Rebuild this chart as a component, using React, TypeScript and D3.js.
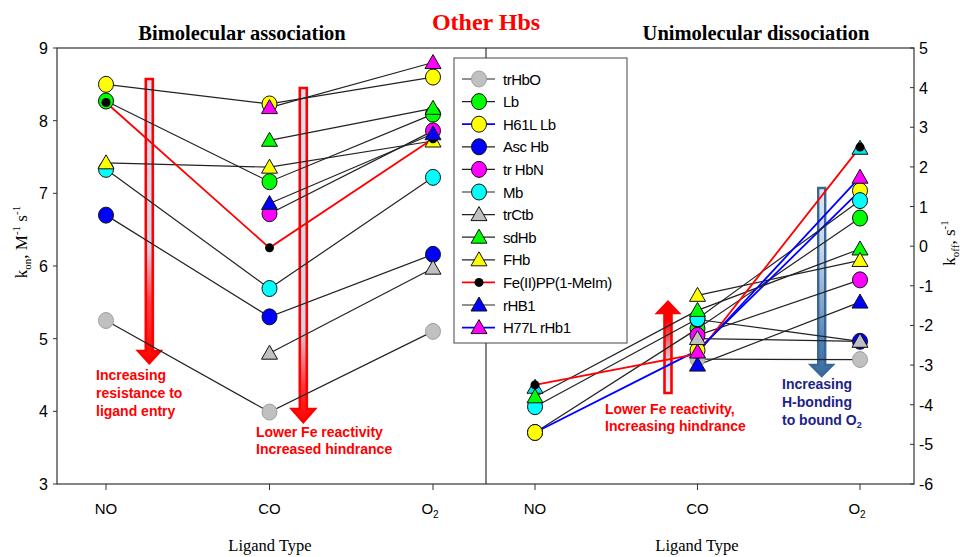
import React from 'react';
import { scaleLinear, scalePoint, line } from 'd3';

// ligand categories on both panels
const categories = ['NO', 'CO', 'O2'];

const seriesNames = [
  'trHbO', 'Lb', 'H61L Lb', 'Asc Hb', 'tr HbN', 'Mb',
  'trCtb', 'sdHb', 'FHb', 'Fe(II)PP(1-MeIm)', 'rHB1', 'H77L rHb1',
];

// log k_on (M-1 s-1), values at NO, CO, O2
const kOn: (number | null)[][] = [
  [5.25, 3.99, 5.1],
  [8.27, 7.16, 8.09],
  [8.5, 8.23, 8.6],
  [6.7, 5.3, 6.16],
  [null, 6.72, 7.86],
  [7.33, 5.69, 7.22],
  [null, 4.8, 5.97],
  [null, 7.73, 8.17],
  [7.42, 7.36, 7.72],
  [8.25, 6.25, 7.75],
  [null, 6.86, 7.82],
  [null, 8.18, 8.8],
];

// log k_off (s-1), values at NO, CO, O2
const kOff: (number | null)[][] = [
  [null, -2.85, -2.86],
  [-4.7, -2.08, 0.71],
  [-4.7, -2.63, 1.4],
  [null, -1.85, -2.4],
  [null, -2.25, -0.85],
  [-4.05, -1.83, 1.15],
  [null, -2.33, -2.4],
  [-3.8, -1.62, -0.07],
  [null, -1.24, -0.36],
  [-3.5, -2.72, 2.5],
  [null, -3.0, -1.41],
  [null, -2.67, 1.74],
];

// unlabeled cyan triangles hidden under the Fe(II)PP points
const kOffHidden: (number | null)[] = [-3.56, null, 2.47];

const kOnTicks = [3, 4, 5, 6, 7, 8, 9];
const kOffTicks = [-6, -5, -4, -3, -2, -1, 0, 1, 2, 3, 4, 5];

// styles
const fills = ['#c0c0c0', '#00ff00', '#ffff00', '#0000ff', '#ff00ff', '#00ffff',
  '#c0c0c0', '#00ff00', '#ffff00', '#000000', '#0000ff', '#ff00ff'];
const shapes = ['c', 'c', 'c', 'c', 'c', 'c', 't', 't', 't', 'd', 't', 't'];
const legendLine = ['#222', '#222', '#0000ff', '#222', '#222', '#222', '#222', '#222', '#222', '#ff0000', '#222', '#0000ff'];
const rightLine = legendLine;
const leftLine = seriesNames.map((_, i) => (i === 9 ? '#ff0000' : '#222'));

const top = 48;
const bottom = 484;
const leftX = 57;
const midX = 486;
const rightX = 914;

const xL = scalePoint<string>().domain(categories).range([106, 433]);
const xR = scalePoint<string>().domain(categories).range([535, 860]);
const yL = scaleLinear().domain([3, 9]).range([bottom, top]);
const yR = scaleLinear().domain([-6, 5]).range([bottom, top]);

const sans = 'Liberation Sans, Arial, sans-serif';
const serif = 'Liberation Serif, Times New Roman, serif';

function Marker({ shape, fill, x, y }: { shape: string; fill: string; x: number; y: number }) {
  const stroke = fill === '#c0c0c0' && shape === 'c' ? '#a0a0a0' : '#111';
  if (shape === 'c') return <ellipse cx={x} cy={y} rx={7.5} ry={8} fill={fill} stroke={stroke} strokeWidth={1} />;
  if (shape === 'd') return <circle cx={x} cy={y} r={4.5} fill="#000" />;
  return <path d={`M${x},${y - 8}L${x + 8},${y + 6}L${x - 8},${y + 6}Z`} fill={fill} stroke="#111" strokeWidth={1} />;
}

function arrowPath(cx: number, y0: number, yBase: number, yTip: number, sw: number, hw: number) {
  return `M${cx - sw / 2},${y0}L${cx + sw / 2},${y0}L${cx + sw / 2},${yBase}L${cx + hw / 2},${yBase}L${cx},${yTip}L${cx - hw / 2},${yBase}L${cx - sw / 2},${yBase}Z`;
}

function Panel({ data, x, y, colors, hidden }: any) {
  const gen = line<[string, number | null]>()
    .defined(d => d[1] != null)
    .x(d => x(d[0]) as number)
    .y(d => y(d[1] as number));
  return (
    <g>
      {data.map((row: (number | null)[], i: number) => (
        <path key={'l' + i} d={gen(categories.map((c, j) => [c, row[j]])) || ''}
          fill="none" stroke={colors[i]} strokeWidth={colors[i] === '#222' ? 1.2 : 1.8} />
      ))}
      {hidden && hidden.map((v: number | null, j: number) => v == null ? null : (
        <Marker key={'h' + j} shape="t" fill="#00e5ee" x={x(categories[j]) as number} y={y(v)} />
      ))}
      {data.map((row: (number | null)[], i: number) =>
        row.map((v, j) => v == null ? null : (
          <Marker key={i + '-' + j} shape={shapes[i]} fill={fills[i]} x={x(categories[j]) as number} y={y(v)} />
        )))}
    </g>
  );
}

function CatLabels({ x }: { x: any }) {
  return (
    <g fontFamily={sans} fontSize={15} textAnchor="middle">
      {categories.map(c => (
        <g key={c}>
          <line x1={x(c)} x2={x(c)} y1={bottom} y2={bottom + 6} stroke="#333" />
          {c === 'O2' ? (
            <text x={x(c) - 3} y={514}>O<tspan fontSize={10} dy={4}>2</tspan></text>
          ) : (
            <text x={x(c)} y={514}>{c}</text>
          )}
        </g>
      ))}
    </g>
  );
}

export default function App() {
  const legendY = (i: number) => 79 + i * 22.6;
  return (
    <svg width={964} height={557} style={{ position: 'absolute', left: 0, top: 0, background: '#fff' }}>
      <defs>
        <linearGradient id="gL1" x1="0" y1="0" x2="0" y2="1">
          <stop offset="0" stopColor="#d8e0ee" />
          <stop offset="0.6" stopColor="#ccd6e8" />
          <stop offset="0.78" stopColor="#ff4040" />
          <stop offset="1" stopColor="#ff0000" />
        </linearGradient>
        <linearGradient id="gL2" x1="0" y1="0" x2="0" y2="1">
          <stop offset="0" stopColor="#d8e0ee" />
          <stop offset="0.72" stopColor="#ccd6e8" />
          <stop offset="0.9" stopColor="#ff3030" />
          <stop offset="1" stopColor="#ff0000" />
        </linearGradient>
        <linearGradient id="gR1" x1="0" y1="0" x2="0" y2="1">
          <stop offset="0" stopColor="#ff0000" />
          <stop offset="0.2" stopColor="#ff0000" />
          <stop offset="0.65" stopColor="#d6dcec" />
          <stop offset="1" stopColor="#eef2f8" />
        </linearGradient>
        <linearGradient id="gB" x1="0" y1="0" x2="0" y2="1">
          <stop offset="0" stopColor="#dde6f2" />
          <stop offset="0.35" stopColor="#c4d4e8" />
          <stop offset="0.85" stopColor="#4a7db3" />
          <stop offset="1" stopColor="#3b6ca0" />
        </linearGradient>
      </defs>

      {/* titles */}
      <text x={486} y={30} textAnchor="middle" fontFamily={serif} fontWeight="bold" fontSize={24} fill="#ff0000">Other Hbs</text>
      <text x={242} y={40} textAnchor="middle" fontFamily={serif} fontWeight="bold" fontSize={20.5}>Bimolecular association</text>
      <text x={756} y={40} textAnchor="middle" fontFamily={serif} fontWeight="bold" fontSize={20.5}>Unimolecular dissociation</text>

      {/* frame */}
      <rect x={leftX} y={top} width={rightX - leftX} height={bottom - top} fill="none" stroke="#333" strokeWidth={1.2} />
      <line x1={midX} x2={midX} y1={top} y2={bottom} stroke="#333" strokeWidth={1.2} />

      {/* left axis */}
      <g fontFamily={sans} fontSize={16} textAnchor="end">
        {kOnTicks.map(t => (
          <g key={t}>
            <line x1={leftX - 4} x2={leftX} y1={yL(t)} y2={yL(t)} stroke="#333" />
            <text x={48} y={yL(t) + 6}>{t}</text>
          </g>
        ))}
      </g>
      {/* right axis */}
      <g fontFamily={sans} fontSize={16} textAnchor="start">
        {kOffTicks.map(t => (
          <g key={t}>
            <line x1={rightX - 4} x2={rightX} y1={yR(t)} y2={yR(t)} stroke="#333" />
            <text x={919} y={yR(t) + 6}>{t}</text>
          </g>
        ))}
      </g>

      <text transform="translate(27,242) rotate(-90)" textAnchor="middle" fontFamily={serif} fontSize={17}>
        k<tspan fontSize={11} dy={4}>on</tspan><tspan dy={-4}>, M</tspan><tspan fontSize={11} dy={-7}>-1</tspan><tspan dy={7}> s</tspan><tspan fontSize={11} dy={-7}>-1</tspan>
      </text>
      <text transform="translate(955,243) rotate(-90)" textAnchor="middle" fontFamily={serif} fontSize={17}>
        k<tspan fontSize={11} dy={4}>off</tspan><tspan dy={-4}>, s</tspan><tspan fontSize={11} dy={-7}>-1</tspan>
      </text>

      <CatLabels x={xL} />
      <CatLabels x={xR} />
      <text x={270} y={551} textAnchor="middle" fontFamily={serif} fontSize={16.5}>Ligand Type</text>
      <text x={697} y={551} textAnchor="middle" fontFamily={serif} fontSize={16.5}>Ligand Type</text>

      {/* arrows (behind data) */}
      <path d={arrowPath(149.3, 79, 351, 363, 7, 22)} fill="url(#gL1)" stroke="#ff0000" strokeWidth={2.6} strokeLinejoin="miter" />
      <path d={arrowPath(303.3, 88, 409, 422, 7, 23)} fill="url(#gL2)" stroke="#ff0000" strokeWidth={2.6} />
      <path d={arrowPath(668, 393, 313, 302, 7, 21)} fill="url(#gR1)" stroke="#ff0000" strokeWidth={2.6} />
      <path d={arrowPath(821.7, 188, 365, 376, 7, 22)} fill="url(#gB)" stroke="#3a6796" strokeWidth={2.4} />

      <Panel data={kOn} x={xL} y={yL} colors={leftLine} />
      <Panel data={kOff} x={xR} y={yR} colors={rightLine} hidden={kOffHidden} />

      {/* annotations */}
      <g fontFamily={sans} fontWeight="bold" fontSize={14} fill="#ff0000">
        <text x={96} y={380}>Increasing</text>
        <text x={96} y={398}>resistance to</text>
        <text x={96} y={416}>ligand entry</text>
        <text x={256} y={437}>Lower Fe reactivity</text>
        <text x={256} y={454}>Increased hindrance</text>
        <text x={605} y={414}>Lower Fe reactivity,</text>
        <text x={605} y={431}>Increasing hindrance</text>
      </g>
      <g fontFamily={sans} fontWeight="bold" fontSize={14} fill="#1c2388">
        <text x={782} y={389}>Increasing</text>
        <text x={782} y={407}>H-bonding</text>
        <text x={782} y={425}>to bound O<tspan fontSize={9} dy={3}>2</tspan></text>
      </g>

      {/* legend */}
      <rect x={454} y={58} width={173} height={285} fill="#fff" stroke="#444" strokeWidth={1} />
      {seriesNames.map((n, i) => (
        <g key={n}>
          <line x1={462} x2={495} y1={legendY(i)} y2={legendY(i)} stroke={legendLine[i]} strokeWidth={legendLine[i] === '#222' ? 1.2 : 1.8} />
          <Marker shape={shapes[i]} fill={fills[i]} x={479} y={legendY(i)} />
          <text x={503} y={legendY(i) + 5.5} fontFamily={sans} fontSize={15} letterSpacing={-0.5}>{n}</text>
        </g>
      ))}
    </svg>
  );
}
